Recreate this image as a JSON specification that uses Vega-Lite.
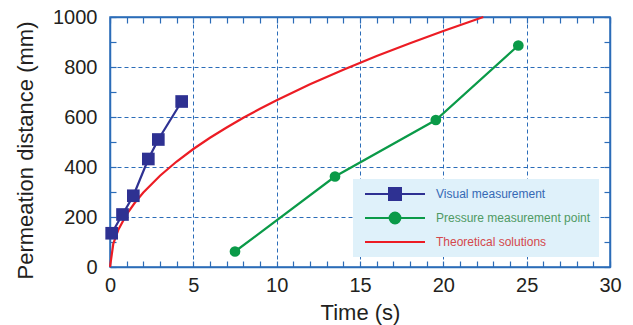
{
  "$schema": "https://vega.github.io/schema/vega-lite/v6.json",
  "width": 500,
  "height": 250,
  "autosize": "none",
  "padding": {"left": 110, "top": 17, "right": 23, "bottom": 58},
  "config": {
    "font": "Liberation Sans",
    "view": {"stroke": "#2b6cb8", "strokeWidth": 1.5}
  },
  "data": {
    "values": [
      {"series": "Visual measurement", "t": 0.1, "d": 135},
      {"series": "Visual measurement", "t": 0.75, "d": 210},
      {"series": "Visual measurement", "t": 1.4, "d": 285},
      {"series": "Visual measurement", "t": 2.3, "d": 432},
      {"series": "Visual measurement", "t": 2.9, "d": 510},
      {"series": "Visual measurement", "t": 4.3, "d": 662},
      {"series": "Pressure measurement point", "t": 7.5, "d": 62},
      {"series": "Pressure measurement point", "t": 13.5, "d": 362},
      {"series": "Pressure measurement point", "t": 19.55, "d": 588},
      {"series": "Pressure measurement point", "t": 24.5, "d": 886},
      {"series": "Theoretical solutions", "t": 0, "d": 0},
      {"series": "Theoretical solutions", "t": 0.2, "d": 94},
      {"series": "Theoretical solutions", "t": 0.5, "d": 149},
      {"series": "Theoretical solutions", "t": 1, "d": 211},
      {"series": "Theoretical solutions", "t": 1.5, "d": 258},
      {"series": "Theoretical solutions", "t": 2, "d": 298},
      {"series": "Theoretical solutions", "t": 3, "d": 365},
      {"series": "Theoretical solutions", "t": 4, "d": 422},
      {"series": "Theoretical solutions", "t": 5, "d": 472},
      {"series": "Theoretical solutions", "t": 6, "d": 517},
      {"series": "Theoretical solutions", "t": 7, "d": 558},
      {"series": "Theoretical solutions", "t": 8, "d": 597},
      {"series": "Theoretical solutions", "t": 9, "d": 633},
      {"series": "Theoretical solutions", "t": 10, "d": 667},
      {"series": "Theoretical solutions", "t": 12, "d": 731},
      {"series": "Theoretical solutions", "t": 14, "d": 789},
      {"series": "Theoretical solutions", "t": 16, "d": 844},
      {"series": "Theoretical solutions", "t": 18, "d": 895},
      {"series": "Theoretical solutions", "t": 20, "d": 944},
      {"series": "Theoretical solutions", "t": 22.4, "d": 1000}
    ]
  },
  "resolve": {"axis": {"x": "independent", "y": "independent"}},
  "layer": [
    {
      "mark": {"type": "line", "strokeWidth": 2.2},
      "encoding": {
        "x": {
          "field": "t", "type": "quantitative",
          "scale": {"domain": [0, 30], "nice": false},
          "axis": {
            "orient": "bottom",
            "values": [0,1,2,3,4,5,6,7,8,9,10,11,12,13,14,15,16,17,18,19,20,21,22,23,24,25,26,27,28,29,30],
            "labelExpr": "datum.value % 5 === 0 ? datum.label : ''",
            "labelFontSize": 20, "labelColor": "#231f20", "labelPadding": 14, "labelFlush": false, "labelOverlap": false,
            "tickSize": -6, "tickColor": "#2b6cb8", "tickWidth": 1.2,
            "domainColor": "#2b6cb8", "domainWidth": 1.5,
            "grid": true, "gridColor": "#2b6cb8", "gridDash": [4, 3], "gridWidth": 1,
            "gridOpacity": {"condition": {"test": "datum.value % 5 === 0 && datum.value > 0 && datum.value < 30", "value": 1}, "value": 0},
            "title": "Time (s)", "titleFontSize": 22, "titleFontWeight": "normal", "titleColor": "#231f20",
            "titleX": 250, "titleY": 45, "titleBaseline": "middle"
          }
        },
        "y": {
          "field": "d", "type": "quantitative",
          "scale": {"domain": [0, 1000], "nice": false},
          "axis": {
            "orient": "left",
            "values": [0,100,200,300,400,500,600,700,800,900,1000],
            "labelExpr": "datum.value % 200 === 0 ? datum.label : ''",
            "format": "d",
            "labelFontSize": 20, "labelColor": "#231f20", "labelPadding": 19, "labelOverlap": false, "labelFlush": false,
            "tickSize": -6, "tickColor": "#2b6cb8", "tickWidth": 1.2,
            "domainColor": "#2b6cb8", "domainWidth": 1.5,
            "grid": true, "gridColor": "#2b6cb8", "gridDash": [4, 3], "gridWidth": 1,
            "gridOpacity": {"condition": {"test": "datum.value % 200 === 0 && datum.value > 0 && datum.value < 1000", "value": 1}, "value": 0},
            "title": "Permeation distance (mm)", "titleFontSize": 22, "titleFontWeight": "normal", "titleColor": "#231f20",
            "titleX": -85, "titleY": 133, "titleBaseline": "middle", "titleAngle": -90
          }
        },
        "color": {
          "field": "series", "type": "nominal",
          "scale": {
            "domain": ["Visual measurement", "Pressure measurement point", "Theoretical solutions"],
            "range": ["#2e3192", "#0a9a48", "#ec1c24"]
          },
          "legend": {
            "orient": "none", "legendX": 243, "legendY": 162,
            "title": null,
            "fillColor": "#dff1fa", "strokeColor": null,
            "padding": 8,
            "labelFont": "Liberation Sans", "labelFontSize": 12,
            "labelOffset": 10,
            "symbolOffset": 3,
            "rowPadding": 10,
            "clipHeight": 14,
            "symbolSize": 3600,
            "encode": {
              "symbols": {
                "update": {
                  "shape": {"signal": "datum.value === 'Visual measurement' ? 'M-1,0H1M-0.2,-0.2H0.2V0.2H-0.2Z' : datum.value === 'Pressure measurement point' ? 'M-1,0H1M-0.18,0A0.18,0.18,0,1,0,0.18,0A0.18,0.18,0,1,0,-0.18,0Z' : 'M-1,0H1'"},
                  "fill": {"scale": "color", "field": "value"},
                  "stroke": {"scale": "color", "field": "value"},
                  "strokeWidth": {"value": 2},
                  "opacity": {"value": 1},
                  "fillOpacity": {"value": 1},
                  "strokeOpacity": {"value": 1}
                }
              },
              "labels": {
                "update": {
                  "fill": {"signal": "datum.value === 'Visual measurement' ? '#3569b5' : datum.value === 'Pressure measurement point' ? '#4f9a63' : '#d4484c'"}
                }
              }
            }
          }
        }
      }
    },
    {
      "transform": [{"filter": "datum.series !== 'Theoretical solutions'"}],
      "mark": {"type": "point", "filled": true, "opacity": 1},
      "encoding": {
        "x": {
          "field": "t", "type": "quantitative",
          "scale": {"domain": [0, 30], "nice": false},
          "axis": {
            "orient": "top",
            "values": [0,1,2,3,4,5,6,7,8,9,10,11,12,13,14,15,16,17,18,19,20,21,22,23,24,25,26,27,28,29,30],
            "labels": false, "grid": false, "title": null,
            "tickSize": -6, "tickColor": "#2b6cb8", "tickWidth": 1.2,
            "domainColor": "#2b6cb8", "domainWidth": 1.5
          }
        },
        "y": {
          "field": "d", "type": "quantitative",
          "scale": {"domain": [0, 1000], "nice": false},
          "axis": {
            "orient": "right",
            "values": [0,100,200,300,400,500,600,700,800,900,1000],
            "labels": false, "grid": false, "title": null,
            "tickSize": -6, "tickColor": "#2b6cb8", "tickWidth": 1.2,
            "domainColor": "#2b6cb8", "domainWidth": 1.5
          }
        },
        "color": {"field": "series", "type": "nominal"},
        "shape": {
          "field": "series", "type": "nominal",
          "scale": {"domain": ["Visual measurement", "Pressure measurement point"], "range": ["square", "circle"]},
          "legend": null
        },
        "size": {
          "field": "series", "type": "nominal",
          "scale": {"domain": ["Visual measurement", "Pressure measurement point"], "range": [160, 115]},
          "legend": null
        }
      }
    }
  ]
}
